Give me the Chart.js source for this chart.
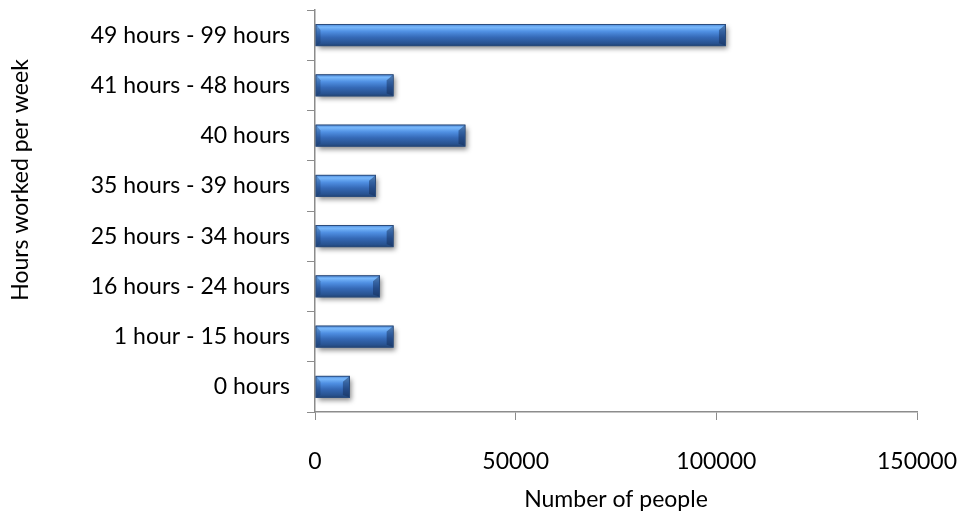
<!DOCTYPE html>
<html>
<head>
<meta charset="utf-8">
<script src="https://cdn.jsdelivr.net/npm/chart.js@4/dist/chart.umd.min.js"></script>
<style>
  html, body { margin: 0; padding: 0; background: #fff; }
  #wrap { width: 961px; height: 515px; }
</style>
</head>
<body>
<div id="wrap"><canvas id="hoursChart" width="961" height="515"></canvas></div>
<script>
// hours worked per week, top to bottom as drawn
var hourBands = [
    '49 hours - 99 hours',
    '41 hours - 48 hours',
    '40 hours',
    '35 hours - 39 hours',
    '25 hours - 34 hours',
    '16 hours - 24 hours',
    '1 hour - 15 hours',
    '0 hours'
];
var peopleCounts = [102400, 19600, 37500, 15200, 19600, 16200, 19600, 8700];
var xTicks = [0, 50000, 100000, 150000];

var FONT = 'Lato, "Open Sans", sans-serif';
var FONT_SIZE = 23;
var AXIS_GREY = '#8c8c8c';
var BAR_PCT = 0.44;

// vertical gradient per bar so every bar gets the same glossy look
function barFill(ctx) {
    var chart = ctx.chart;
    var y = chart.scales.y;
    if (!y || ctx.type !== 'data') return '#3c74c4';
    var mid = y.getPixelForValue(ctx.dataIndex);
    var half = (y.height / hourBands.length) * BAR_PCT / 2;
    if (!isFinite(mid) || !isFinite(half)) return '#3c74c4';
    var g = chart.ctx.createLinearGradient(0, mid - half, 0, mid + half);
    g.addColorStop(0, '#4a84d4');
    g.addColorStop(0.14, '#78b8fb');
    g.addColorStop(0.34, '#4f8fe2');
    g.addColorStop(0.6, '#3569b6');
    g.addColorStop(0.88, '#28528f');
    g.addColorStop(1, '#1f4170');
    return g;
}

// soft drop shadow under the bars and darker bevel at the bar ends
var barEffects = {
    id: 'barEffects',
    beforeDatasetsDraw: function(chart) {
        var c = chart.ctx;
        chart.getDatasetMeta(0).data.forEach(function(bar) {
            var top = bar.y - bar.height / 2;
            c.save();
            c.shadowColor = 'rgba(0,0,0,0.45)';
            c.shadowBlur = 5;
            c.shadowOffsetX = 2;
            c.shadowOffsetY = 3;
            c.fillStyle = '#2a4a7a';
            c.fillRect(bar.base, top, bar.x - bar.base, bar.height);
            c.restore();
        });
    },
    afterDatasetsDraw: function(chart) {
        var c = chart.ctx;
        chart.getDatasetMeta(0).data.forEach(function(bar) {
            var top = bar.y - bar.height / 2 + 1;
            var bot = bar.y + bar.height / 2 - 1;
            var r = bar.x - 1;
            var l = bar.base + 1;
            c.save();
            c.fillStyle = 'rgba(18,40,80,0.45)';
            c.beginPath();
            c.moveTo(r - 6, top + 5);
            c.lineTo(r, top);
            c.lineTo(r, bot);
            c.lineTo(r - 6, bot - 2);
            c.closePath();
            c.fill();
            c.fillStyle = 'rgba(20,45,90,0.3)';
            c.beginPath();
            c.moveTo(l, top);
            c.lineTo(l + 4, top + 5);
            c.lineTo(l + 4, bot - 2);
            c.lineTo(l, bot);
            c.closePath();
            c.fill();
            c.restore();
        });
    }
};

// rotated title for the category axis
var yTitle = {
    id: 'yTitle',
    afterDraw: function(chart) {
        var c = chart.ctx;
        c.save();
        c.translate(21, 180);
        c.rotate(-Math.PI / 2);
        c.font = FONT_SIZE + 'px ' + FONT;
        c.fillStyle = '#000';
        c.textAlign = 'center';
        c.textBaseline = 'middle';
        c.fillText('Hours worked per week', 0, 0);
        c.restore();
    }
};

new Chart(document.getElementById('hoursChart').getContext('2d'), {
    type: 'bar',
    data: {
        labels: hourBands,
        datasets: [{
            label: 'Number of people',
            data: peopleCounts,
            backgroundColor: barFill,
            borderColor: '#2b4c7c',
            borderWidth: 1,
            borderSkipped: false,
            barPercentage: BAR_PCT,
            categoryPercentage: 1
        }]
    },
    options: {
        indexAxis: 'y',
        responsive: false,
        animation: false,
        layout: { padding: { top: 10, right: 44, bottom: 0, left: 0 } },
        plugins: {
            legend: { display: false },
            tooltip: { enabled: false }
        },
        scales: {
            x: {
                min: 0,
                max: 150000,
                afterBuildTicks: function(scale) {
                    scale.ticks = xTicks.map(function(v) { return { value: v }; });
                },
                afterFit: function(scale) {
                    scale.height = 103;
                    scale.paddingLeft = 0;
                    scale.paddingRight = 0;
                },
                grid: {
                    drawOnChartArea: false,
                    drawTicks: true,
                    tickLength: 8,
                    color: AXIS_GREY
                },
                border: { color: AXIS_GREY, width: 1.5 },
                ticks: {
                    color: '#000',
                    font: { family: FONT, size: FONT_SIZE },
                    padding: 28,
                    maxRotation: 0,
                    callback: function(v) { return String(v); }
                },
                title: {
                    display: true,
                    text: 'Number of people',
                    color: '#000',
                    font: { family: FONT, size: FONT_SIZE },
                    padding: { top: 0, bottom: 2 }
                }
            },
            y: {
                afterFit: function(scale) {
                    scale.width = 315;
                    scale.paddingTop = 0;
                    scale.paddingBottom = 0;
                },
                grid: {
                    drawOnChartArea: false,
                    drawTicks: true,
                    tickLength: 8,
                    offset: true,
                    color: AXIS_GREY
                },
                border: { color: AXIS_GREY, width: 1.5 },
                ticks: {
                    color: '#000',
                    font: { family: FONT, size: FONT_SIZE },
                    padding: 17
                }
            }
        }
    },
    plugins: [barEffects, yTitle]
});
</script>
</body>
</html>
